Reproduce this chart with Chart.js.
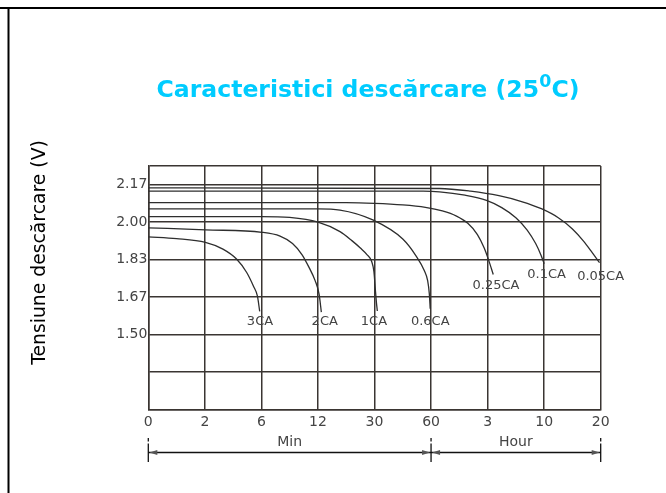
<!DOCTYPE html>
<html>
<head>
<meta charset="utf-8">
<script src="https://cdn.jsdelivr.net/npm/chart.js@4.4.1/dist/chart.umd.min.js"></script>
<style>
html,body{margin:0;padding:0;background:#fff;}
#wrap{width:666px;height:493px;position:relative;}
canvas{display:block;}
</style>
</head>
<body>
<div id="wrap"><canvas id="c" width="666" height="493"></canvas></div>
<script>
// ---- tick labels ----
const xTickLabels = ['0', '2', '6', '12', '30', '60', '3', '10', '20'];
const yTickValues = [7/6, 4/3, 1.5, 5/3, 11/6, 2.0, 13/6, 2.25];
const yTickLabels = ['', '', '1.50', '1.67', '1.83', '2.00', '2.17', ''];

// ---- series (x in axis-grid units: 0..8 = 0,2,6,12,30,60 min, 3,10,20 h) ----
const seriesNames = ['3CA', '2CA', '1CA', '0.6CA', '0.25CA', '0.1CA', '0.05CA'];
const x3CA = [0, 0.5, 1.01, 1.32, 1.56, 1.74, 1.86, 1.93, 1.97];
const v3CA = [1.935, 1.927, 1.91, 1.88, 1.836, 1.776, 1.715, 1.671, 1.603];
const x2CA = [0, 1.01, 2.01, 2.33, 2.55, 2.72, 2.84, 2.95, 3.02, 3.06];
const v2CA = [1.975, 1.966, 1.955, 1.938, 1.905, 1.855, 1.80, 1.74, 1.68, 1.60];
const x1CA = [0, 2.0, 2.5, 3.0, 3.39, 3.6, 3.75, 3.87, 3.95, 3.99, 4.015, 4.035, 4.05];
const v1CA = [2.025, 2.025, 2.021, 2.0, 1.958, 1.918, 1.885, 1.855, 1.825, 1.78, 1.70, 1.64, 1.605];
const x06CA = [0, 3.0, 3.39, 3.97, 4.5, 4.74, 4.88, 4.94, 4.97, 4.985];
const v06CA = [2.059, 2.059, 2.054, 2.01, 1.925, 1.848, 1.785, 1.74, 1.68, 1.615];
const x025CA = [0, 3.5, 4.0, 4.5, 4.9, 5.2, 5.45, 5.65, 5.82, 5.94, 6.02, 6.1];
const v025CA = [2.087, 2.087, 2.084, 2.077, 2.066, 2.05, 2.027, 1.995, 1.945, 1.885, 1.83, 1.767];
const x01CA = [0, 4.86, 5.15, 5.6, 5.98, 6.25, 6.5, 6.7, 6.85, 6.95, 7.0];
const v01CA = [2.138, 2.138, 2.135, 2.12, 2.097, 2.065, 2.02, 1.965, 1.905, 1.85, 1.815];
const x005CA = [0, 5.15, 5.7, 6.2, 6.6, 6.95, 7.25, 7.5, 7.7, 7.85, 7.98];
const v005CA = [2.153, 2.15, 2.138, 2.118, 2.092, 2.06, 2.02, 1.97, 1.915, 1.865, 1.82];

const seriesX = [x3CA, x2CA, x1CA, x06CA, x025CA, x01CA, x005CA];
const seriesV = [v3CA, v2CA, v1CA, v06CA, v025CA, v01CA, v005CA];

// ---- curve label anchors (axis units) ----
const labelX = [1.975, 3.12, 3.99, 4.985, 6.148, 7.044, 7.998];
const labelV = [1.559, 1.559, 1.557, 1.557, 1.718, 1.765, 1.758];

// ---- time-span annotation under the axis ----
const spanBounds = [0, 5, 8];
const spanLabels = ['Min', 'Hour'];

// ---- text ----
const titleMain = 'Caracteristici descărcare (25';
const titleSup = '0';
const titleEnd = 'C)';
const yTitle = 'Tensiune descărcare (V)';

const GRID = '#3a3532';
const TXT = '#444444';

const datasets = seriesNames.map((name, i) => ({
  label: name,
  data: seriesX[i].map((x, j) => ({x: x, y: seriesV[i][j]})),
  borderColor: '#2e2e2e',
  borderWidth: 1.3,
  pointRadius: 0,
  fill: false,
  cubicInterpolationMode: 'monotone'
}));

const decor = {
  id: 'decor',
  afterDraw(chart) {
    const ctx = chart.ctx;
    const xs = chart.scales.x, ys = chart.scales.y;
    ctx.save();
    // frame
    ctx.fillStyle = '#000';
    ctx.fillRect(0, 7, 666, 2);
    ctx.fillRect(7.5, 7, 2, 486);

    // title with superscript
    let size = 23.5;
    ctx.textBaseline = 'alphabetic';
    const setF = s => ctx.font = 'bold ' + s + 'px "DejaVu Sans", Verdana, sans-serif';
    setF(size);
    const w1 = ctx.measureText(titleMain).width;
    const w3 = ctx.measureText(titleEnd).width;
    setF(size * 0.74);
    const w2 = ctx.measureText(titleSup).width;
    const total = w1 + w2 + w3;
    const k = 423 / total;
    size *= k;
    const left = 368 - 423 / 2;
    const base = 97.3;
    ctx.fillStyle = '#00ccff';
    ctx.textAlign = 'left';
    setF(size);
    ctx.fillText(titleMain, left, base);
    setF(size * 0.74);
    ctx.fillText(titleSup, left + w1 * k, base - size * 0.43);
    setF(size);
    ctx.fillText(titleEnd, left + (w1 + w2) * k, base);

    // y title
    ctx.save();
    ctx.translate(40, 252.5);
    ctx.rotate(-Math.PI / 2);
    ctx.font = '18.8px "DejaVu Sans", Verdana, sans-serif';
    ctx.fillStyle = '#000';
    ctx.textAlign = 'center';
    ctx.textBaseline = 'middle';
    ctx.fillText(yTitle, 0, 0);
    ctx.restore();

    // curve labels
    ctx.font = '13px "DejaVu Sans", Verdana, sans-serif';
    ctx.fillStyle = TXT;
    ctx.textAlign = 'center';
    ctx.textBaseline = 'middle';
    seriesNames.forEach((n, i) => {
      ctx.fillText(n, xs.getPixelForValue(labelX[i]), ys.getPixelForValue(labelV[i]));
    });

    // span annotation
    const yl = 452.5;
    ctx.strokeStyle = '#111';
    ctx.lineWidth = 1.3;
    const bx = spanBounds.map(v => xs.getPixelForValue(v));
    bx.forEach(x => {
      ctx.beginPath();
      ctx.moveTo(x, 438); ctx.lineTo(x, 441.5);
      ctx.moveTo(x, 443.5); ctx.lineTo(x, 462);
      ctx.stroke();
    });
    ctx.beginPath();
    ctx.moveTo(bx[0], yl); ctx.lineTo(bx[bx.length - 1], yl);
    ctx.stroke();
    ctx.fillStyle = '#555';
    for (let i = 0; i < bx.length - 1; i++) {
      const a = bx[i] + 1, b = bx[i + 1] - 1;
      ctx.beginPath();
      ctx.moveTo(a, yl); ctx.lineTo(a + 8, yl - 2.5); ctx.lineTo(a + 8, yl + 2.5); ctx.closePath(); ctx.fill();
      ctx.beginPath();
      ctx.moveTo(b, yl); ctx.lineTo(b - 8, yl - 2.5); ctx.lineTo(b - 8, yl + 2.5); ctx.closePath(); ctx.fill();
    }
    ctx.font = '14px "DejaVu Sans", Verdana, sans-serif';
    ctx.fillStyle = TXT;
    ctx.textAlign = 'center';
    ctx.textBaseline = 'middle';
    spanLabels.forEach((t, i) => {
      ctx.fillText(t, (bx[i] + bx[i + 1]) / 2, 442.5);
    });
    ctx.restore();
  }
};

new Chart(document.getElementById('c'), {
  type: 'line',
  data: {datasets: datasets},
  options: {
    responsive: false,
    devicePixelRatio: 1,
    animation: false,
    layout: {padding: {top: 166, right: 65.3, left: 0, bottom: 0}},
    plugins: {legend: {display: false}, title: {display: false}, tooltip: {enabled: false}},
    scales: {
      x: {
        type: 'linear',
        min: 0, max: 8,
        afterBuildTicks: s => { s.ticks = xTickLabels.map((_, i) => ({value: i})); },
        afterFit: s => { s.height = 83.5; },
        ticks: {
          callback: (v, i) => xTickLabels[i],
          font: {family: '"DejaVu Sans", Verdana, sans-serif', size: 14},
          color: TXT, padding: 4, maxRotation: 0, autoSkip: false
        },
        grid: {color: GRID, lineWidth: 1.5, drawTicks: false},
        border: {color: GRID, width: 1.5}
      },
      y: {
        type: 'linear',
        min: 7/6, max: 2.25,
        afterBuildTicks: s => { s.ticks = yTickValues.map(v => ({value: v})); },
        afterFit: s => { s.width = 148.3; },
        ticks: {
          callback: (v, i) => yTickLabels[i],
          font: {family: '"DejaVu Sans", Verdana, sans-serif', size: 14},
          color: TXT, padding: 1, autoSkip: false
        },
        grid: {color: GRID, lineWidth: 1.5, drawTicks: false},
        border: {color: GRID, width: 1.5}
      }
    }
  },
  plugins: [decor]
});
</script>
</body>
</html>
